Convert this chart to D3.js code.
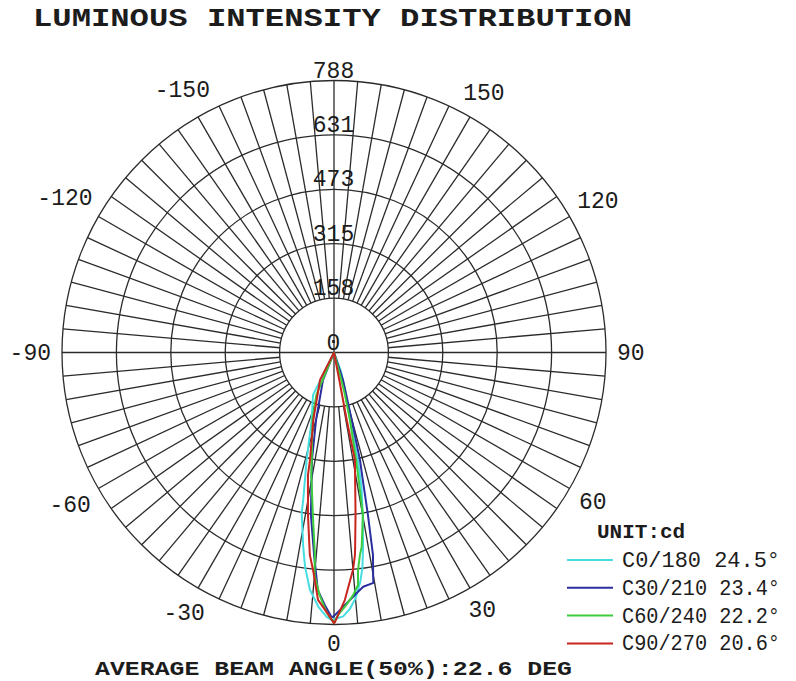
<!DOCTYPE html>
<html><head><meta charset="utf-8">
<script src="https://cdn.jsdelivr.net/npm/d3@7/dist/d3.min.js"></script>
<style>body{margin:0;background:#fff}svg{display:block}</style>
</head><body>
<svg id="chart" width="796" height="681"></svg>
<script>
// ---- data ----
const ringValues = [0, 157.6, 315.2, 472.8, 630.4, 788];
const ringLabels = ["0", "158", "315", "473", "631", "788"];
const angleTicks = [-150, -120, -90, -60, -30, 0, 30, 60, 90, 120, 150];
const seriesNames = ["C0/180 24.5°", "C30/210 23.4°", "C60/240 22.2°", "C90/270 20.6°"];
const seriesColors = ["#45dde0", "#2a2e9e", "#3ccc3c", "#c8251e"];

// C0/180 (traversal order, angle in degrees from nadir, intensity in cd)
const c0Angles = [-90, -26.3, -18.3, -14.3, -11.8, -11.4, -9.0, -7.7, -5.8, -3.5, -1.6, -0.5, 2, 3.5, 5, 6.5, 7.5, 8.5, 10, 11.5, 12.5, 13.5, 16, 20, 90];
const c0Cd     = [0, 137, 206, 321, 436, 474, 570, 626, 691, 738, 766, 775, 765, 745, 715, 670, 630, 570, 480, 400, 320, 200, 120, 60, 0];
// C30/210
const c30Angles = [-90, -21.8, -14.9, -11.6, -8.1, -5.6, -3.9, -2.1, -0.6, -0.2, 2.5, 5.4, 7.1, 9.7, 9.9, 10.9, 11.8, 12.9, 13.6, 14.7, 18.1, 90];
const c30Cd     = [0, 86, 202, 318, 475, 590, 690, 732, 765, 766, 732, 700, 684, 677, 660, 597, 481, 364, 320, 202, 84, 0];
// C60/240
const c60Angles = [-90, -22.6, -17.7, -11.7, -10.5, -7.4, -5.4, -5.0, -3.4, -1.7, 0, 0.9, 2.8, 4.5, 5.9, 6.3, 7.3, 8.1, 10.1, 11.1, 11.6, 13.3, 14.5, 15, 90];
const c60Cd     = [0, 133, 205, 318, 361, 475, 589, 647, 704, 751, 784, 760, 732, 705, 677, 634, 591, 569, 478, 362, 318, 201, 126, 82, 0];
// C90/270
const c90Angles = [-90, -27, -17, -12.6, -12, -9.1, -6.8, -5.5, -3.7, -1.7, 0, 0.2, 2.5, 5.0, 5.9, 6.2, 7.6, 11.0, 10.7, 10.9, 90];
const c90Cd     = [0, 89, 205, 319, 363, 477, 591, 633, 718, 751, 784, 781, 718, 632, 590, 567, 472, 317, 199, 81, 0];

const seriesAngles = [c0Angles, c30Angles, c60Angles, c90Angles];
const seriesCd = [c0Cd, c30Cd, c60Cd, c90Cd];

// ---- drawing ----
const svg = d3.select("#chart");
const cx = 334, cy = 352.5, R = 272;
const FONT = "'Liberation Mono','DejaVu Sans Mono',monospace";
const ink = "#1c1c1c", gridCol = "#2b2b2b";
const r = d3.scaleLinear().domain([0, 788]).range([0, R]);
const rad = d => d * Math.PI / 180;

// title
svg.append("text").attr("x", 33).attr("y", 26)
  .attr("font-family", FONT).attr("font-weight", "bold").attr("font-size", 26)
  .attr("fill", ink).attr("textLength", 599).attr("lengthAdjust", "spacingAndGlyphs")
  .text("LUMINOUS INTENSITY DISTRIBUTION");

const g = svg.append("g").attr("transform", `translate(${cx},${cy})`);

// rings
g.selectAll("circle.ring").data(ringValues.slice(1)).join("circle")
  .attr("class", "ring").attr("r", d => r(d))
  .attr("fill", "none").attr("stroke", gridCol).attr("stroke-width", 1.3);

// spokes every 5 degrees
const spokes = d3.range(0, 360, 5);
g.selectAll("line.spoke").data(spokes).join("line")
  .attr("class", "spoke")
  .attr("x1", d => (d % 90 === 0 ? 0 : r(ringValues[1])) * Math.sin(rad(d)))
  .attr("y1", d => (d % 90 === 0 ? 0 : r(ringValues[1])) * Math.cos(rad(d)))
  .attr("x2", d => R * Math.sin(rad(d)))
  .attr("y2", d => R * Math.cos(rad(d)))
  .attr("stroke", gridCol).attr("stroke-width", 1.3);

// ring labels (above each ring on the vertical axis)
g.selectAll("text.rl").data(ringValues).join("text")
  .attr("class", "rl").attr("x", -0.5).attr("y", d => -r(d) - 3)
  .attr("text-anchor", "middle").attr("font-family", FONT).attr("font-size", 23)
  .attr("fill", ink).text((d, i) => ringLabels[i]);

// angle labels
const fsA = 23, charW = fsA * 0.6, capH = 15;
g.selectAll("text.al").data(angleTicks).join("text")
  .attr("class", "al")
  .each(function (d) {
    const s = String(d);
    const w = s.length * charW;
    const a = rad(d);
    const rr = 283 + (w / 2) * Math.abs(Math.sin(a)) + (capH / 2) * Math.abs(Math.cos(a));
    d3.select(this).attr("x", rr * Math.sin(a)).attr("y", rr * Math.cos(a) + capH / 2);
  })
  .attr("text-anchor", "middle").attr("font-family", FONT).attr("font-size", fsA)
  .attr("fill", ink).text(d => String(d));

// curves
const line = d3.lineRadial()
  .angle(d => Math.PI - rad(d[0]))
  .radius(d => r(d[1]))
  .curve(d3.curveLinear);

seriesAngles.forEach((angs, i) => {
  const pts = angs.map((a, j) => [a, seriesCd[i][j]]);
  g.append("path").attr("d", line(pts))
    .attr("fill", "none").attr("stroke", seriesColors[i])
    .attr("stroke-width", 2).attr("stroke-linejoin", "round");
});

// legend
svg.append("text").attr("x", 597).attr("y", 538)
  .attr("font-family", FONT).attr("font-weight", "bold").attr("font-size", 21)
  .attr("fill", ink).text("UNIT:cd");
const lg = svg.append("g");
seriesNames.forEach((name, i) => {
  const y = 560 + i * 27.8;
  lg.append("line").attr("x1", 567).attr("x2", 613).attr("y1", y).attr("y2", y)
    .attr("stroke", seriesColors[i]).attr("stroke-width", 2);
  lg.append("text").attr("x", 622).attr("y", y + 7)
    .attr("font-family", FONT).attr("font-size", 22).attr("fill", ink)
    .attr("textLength", 158).attr("lengthAdjust", "spacingAndGlyphs")
    .text(name);
});

// bottom note
svg.append("text").attr("x", 95).attr("y", 675)
  .attr("font-family", FONT).attr("font-weight", "bold").attr("font-size", 21)
  .attr("fill", ink).attr("textLength", 477).attr("lengthAdjust", "spacingAndGlyphs")
  .text("AVERAGE BEAM ANGLE(50%):22.6 DEG");
</script>
</body></html>
